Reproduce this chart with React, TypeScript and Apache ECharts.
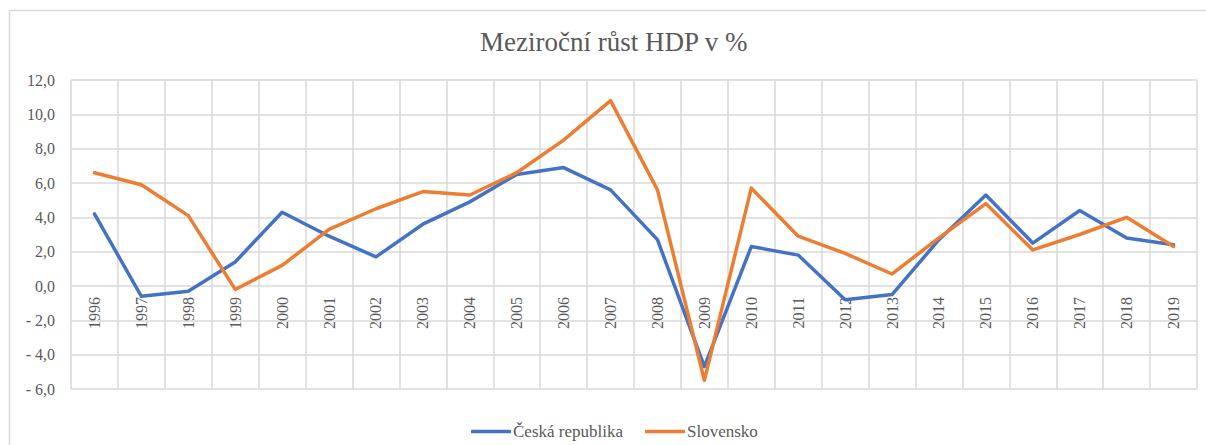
import React, { useEffect, useRef } from "react";
import * as echarts from "echarts";

const years = [
  "1996", "1997", "1998", "1999", "2000", "2001", "2002", "2003", "2004", "2005", "2006", "2007",
  "2008", "2009", "2010", "2011", "2012", "2013", "2014", "2015", "2016", "2017", "2018", "2019",
];
const czech = [4.2, -0.6, -0.3, 1.4, 4.3, 2.9, 1.7, 3.6, 4.9, 6.5, 6.9, 5.6, 2.7, -4.7, 2.3, 1.8, -0.8, -0.5, 2.7, 5.3, 2.5, 4.4, 2.8, 2.4];
const slovakia = [6.6, 5.9, 4.1, -0.2, 1.2, 3.3, 4.5, 5.5, 5.3, 6.6, 8.5, 10.8, 5.6, -5.5, 5.7, 2.9, 1.9, 0.7, 2.8, 4.8, 2.1, 3.0, 4.0, 2.3];
const titleText = "Meziroční růst HDP v %";
const seriesNames = ["Česká republika", "Slovensko"];

const FONT = "Liberation Serif";
const TXT = "#595959";
const GRID = "#d9d9d9";

function fmt(v: number): string {
  const s = Math.abs(v).toFixed(1).replace(".", ",");
  return "{t|" + (v < 0 ? "- " + s : s) + "}";
}

const labelRich = { t: { fontFamily: FONT, fontSize: 16, color: TXT } };

export default function App() {
  const ref = useRef<HTMLDivElement>(null);
  useEffect(() => {
    if (!ref.current) return;
    const chart = echarts.init(ref.current, undefined, { renderer: "svg" });
    chart.setOption({
      animation: false,
      backgroundColor: "#ffffff",
      textStyle: { fontFamily: FONT, color: TXT },
      title: {
        text: titleText,
        left: 475,
        top: 23,
        padding: 5,
        textStyle: { fontFamily: FONT, fontSize: 27, fontWeight: "normal", color: TXT },
      },
      legend: {
        data: seriesNames,
        left: 466,
        top: 418,
        icon: "roundRect",
        itemWidth: 40,
        itemHeight: 3.5,
        itemGap: 22,
        textStyle: { fontFamily: FONT, fontSize: 17, color: TXT, padding: [0, 0, 0, -3] },
      },
      graphic: [
        {
          type: "rect",
          shape: { x: 9.5, y: 10.5, width: 1220, height: 460 },
          style: { fill: "none", stroke: GRID, lineWidth: 1.5 },
          silent: true,
        },
      ],
      grid: { left: 71, right: 9, top: 80, bottom: 56, containLabel: false },
      xAxis: {
        type: "category",
        data: years,
        boundaryGap: true,
        offset: -103,
        axisLine: { show: false, onZero: false },
        axisTick: { show: false },
        axisLabel: {
          rotate: 90,
          margin: 11,
          fontFamily: FONT,
          fontSize: 16,
          color: TXT,
          formatter: (v: string) => "{t|" + v + "}",
          rich: labelRich,
        },
        splitLine: { show: true, lineStyle: { color: GRID, width: 1.5 } },
      },
      yAxis: {
        type: "value",
        min: -6,
        max: 12,
        interval: 2,
        axisLine: { show: false },
        axisTick: { show: false },
        axisLabel: { formatter: fmt, margin: 16, fontFamily: FONT, fontSize: 16, color: TXT, rich: labelRich },
        splitLine: { show: true, lineStyle: { color: GRID, width: 1.5 } },
      },
      series: [
        {
          name: seriesNames[0],
          type: "line",
          data: czech,
          symbol: "none",
          lineStyle: { color: "#4472C4", width: 3.5, cap: "round", join: "round" },
          itemStyle: { color: "#4472C4" },
        },
        {
          name: seriesNames[1],
          type: "line",
          data: slovakia,
          symbol: "none",
          lineStyle: { color: "#ED7D31", width: 3.5, cap: "round", join: "round" },
          itemStyle: { color: "#ED7D31" },
        },
      ],
    });
    return () => chart.dispose();
  }, []);
  return (
    <div
      ref={ref}
      style={{ position: "absolute", left: 0, top: 0, width: 1206, height: 445 }}
    />
  );
}
